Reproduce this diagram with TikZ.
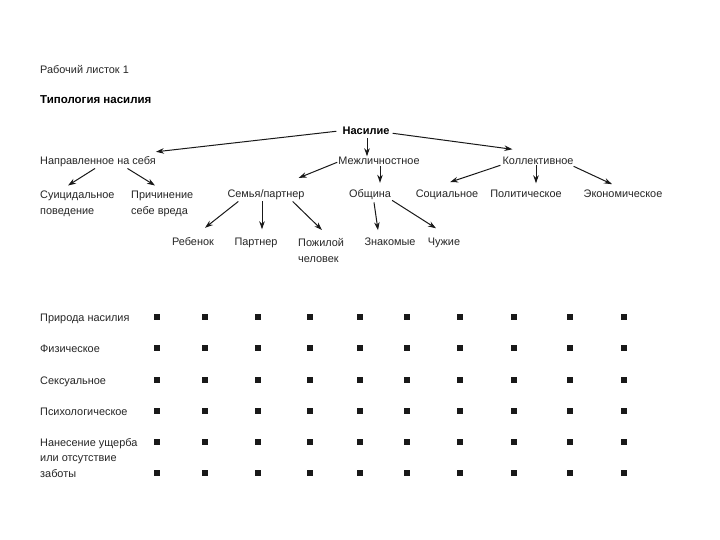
\documentclass[tikz,border=0pt]{standalone}
\usepackage{fontspec}
\setmainfont{Liberation Sans}
\usetikzlibrary{arrows.meta}
\begin{document}
\begin{tikzpicture}[x=1pt,y=-1pt,
  lbl/.style={inner sep=0pt, font=\fontsize{10.9}{16}\selectfont, align=left, text=black!85},
  bld/.style={inner sep=0pt, font=\bfseries\fontsize{11}{13}\selectfont, text=black},
  arr/.style={-{Stealth[length=8pt,width=5.5pt]}, line width=1pt, draw=black!90},
  sq/.style={fill=black!90}]
\useasboundingbox[fill=white] (0,0) rectangle (720,540);
% titles
\node[lbl,anchor=base west] (ws) at (40,74) {Рабочий листок 1};
\node[bld,anchor=base west,font=\bfseries\fontsize{11.5}{13}\selectfont] (tt) at (40,104) {Типология насилия};
% tree
\node[bld,anchor=base] (nas) at (366,135) {Насилие};
\node[lbl,anchor=base west] (self) at (40,165) {Направленное на себя};
\node[lbl,anchor=base] (mezh) at (379,165) {Межличностное};
\node[lbl,anchor=base] (koll) at (538,165) {Коллективное};
\node[lbl,anchor=north west] (suic) at (40,190.5) {Суицидальное\\поведение};
\node[lbl,anchor=north west] (prich) at (131,190.5) {Причинение\\себе вреда};
\node[lbl,anchor=base] (semya) at (266,197) {Семья/партнер};
\node[lbl,anchor=base] (obsch) at (370,197) {Община};
\node[lbl,anchor=base] (soc) at (447,197) {Социальное};
\node[lbl,anchor=base] (pol) at (526,197) {Политическое};
\node[lbl,anchor=base] (econ) at (623,197) {Экономическое};
\node[lbl,anchor=base] (reb) at (193,245) {Ребенок};
\node[lbl,anchor=base] (part) at (256,245) {Партнер};
\node[lbl,anchor=north west] (pozh) at (298,238) {Пожилой\\человек};
\node[lbl,anchor=base] (znak) at (390,245) {Знакомые};
\node[lbl,anchor=base] (chuzh) at (444,245) {Чужие};
% connectors
\draw[arr] ([shift={(-6,0)}]nas.west) -- ([shift={(0,-5)}]self.north east);
\draw[arr] ([shift={(1,3)}]nas.south) -- ([shift={(-12,-1)}]mezh.north);
\draw[arr] ([shift={(3,2)}]nas.east) -- ([shift={(10,-8)}]koll.north west);
\draw[arr] ([shift={(-1,1)}]mezh.west) -- ([shift={(-6,-11)}]semya.north east);
\draw[arr] ([shift={(1,1)}]mezh.south) -- ([shift={(10,-6)}]obsch.north);
\draw[arr] ([shift={(-2,0)}]koll.south west) -- ([shift={(3,-7)}]soc.north);
\draw[arr] ([shift={(-2,0)}]koll.south) -- ([shift={(10,-6)}]pol.north);
\draw[arr] ([shift={(0,1)}]koll.south east) -- ([shift={(-11,-5)}]econ.north);
\draw[arr] ([shift={(55,1)}]self.south west) -- ([shift={(28,-5)}]suic.north west);
\draw[arr] ([shift={(29.5,1)}]self.south) -- ([shift={(24,-5)}]prich.north west);
\draw[arr] ([shift={(11,2)}]semya.south west) -- ([shift={(12,-9)}]reb.north);
\draw[arr] ([shift={(-4,2)}]semya.south) -- ([shift={(6,-8)}]part.north);
\draw[arr] ([shift={(-12,2)}]semya.south east) -- ([shift={(24,-8)}]pozh.north west);
\draw[arr] ([shift={(4,3)}]obsch.south) -- ([shift={(-12,-7)}]znak.north);
\draw[arr] ([shift={(1,1)}]obsch.south east) -- ([shift={(-8,-9)}]chuzh.north);
% table rows
\node[lbl,anchor=base west] (r1) at (40,321) {Природа насилия};
\node[lbl,anchor=base west] (r2) at (40,352) {Физическое};
\node[lbl,anchor=base west] (r3) at (40,384) {Сексуальное};
\node[lbl,anchor=base west] (r4) at (40,415) {Психологическое};
\node[lbl,anchor=north west,font=\fontsize{10.9}{15.5}\selectfont] (r5) at (40,438) {Нанесение ущерба\\или отсутствие\\заботы};
\foreach \x in {157,205,258,310,360,407,460,514,570,624}{
  \foreach \y in {317,348,380,411,442,473}{
    \fill[sq] (\x-3,\y-3) rectangle (\x+3,\y+3);
  }
}
\end{tikzpicture}
\end{document}
